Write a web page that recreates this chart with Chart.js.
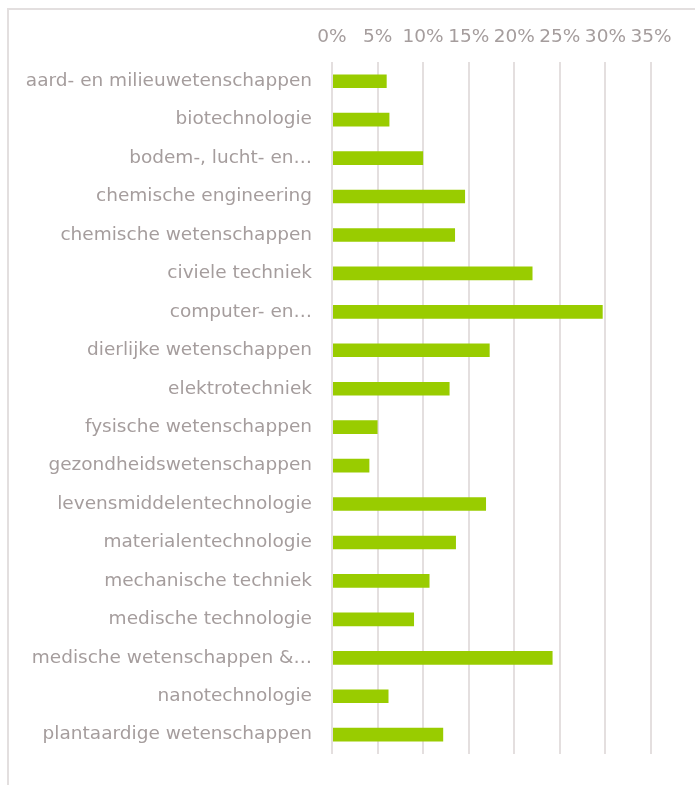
<!DOCTYPE html>
<html>
<head>
<meta charset="utf-8">
<script src="https://cdn.jsdelivr.net/npm/chart.js@4"></script>
<style>
  html, body { margin: 0; padding: 0; background: #fff; overflow: hidden; }
  #wrap { position: relative; width: 695px; height: 785px; }
  #frame { position: absolute; left: 7px; top: 8px; width: 720px; height: 820px;
           border: 2px solid #e3dfdf; box-sizing: border-box; }
  canvas { position: absolute; left: 0; top: 0; }
</style>
</head>
<body>
<div id="wrap">
  <div id="frame"></div>
  <canvas id="chart" width="695" height="785"></canvas>
</div>
<script>
// ============================
// Data
// ============================
const categories = [
    'aard- en milieuwetenschappen',
    'biotechnologie',
    'bodem-, lucht- en…',
    'chemische engineering',
    'chemische wetenschappen',
    'civiele techniek',
    'computer- en…',
    'dierlijke wetenschappen',
    'elektrotechniek',
    'fysische wetenschappen',
    'gezondheidswetenschappen',
    'levensmiddelentechnologie',
    'materialentechnologie',
    'mechanische techniek',
    'medische technologie',
    'medische wetenschappen &…',
    'nanotechnologie',
    'plantaardige wetenschappen'
];

// share in percent
const shares = [6.0, 6.3, 10.0, 14.6, 13.5, 22.0, 29.7, 17.3, 12.9, 5.0,
                4.1, 16.9, 13.6, 10.7, 9.0, 24.2, 6.2, 12.2];

const xTicks = [0, 5, 10, 15, 20, 25, 30, 35];

// ============================
// Styling
// ============================
const textColor = '#a59d9d';
const gridColor = '#e4dfdf';
const barColor  = '#99cc00';
const font      = { family: 'DejaVu Sans', size: 18.5 };

const ctx = document.getElementById('chart').getContext('2d');

new Chart(ctx, {
    type: 'bar',
    data: {
        labels: categories,
        datasets: [{
            data: shares,
            backgroundColor: barColor,
            borderWidth: 0,
            barPercentage: 0.355,
            categoryPercentage: 1
        }]
    },
    options: {
        indexAxis: 'y',
        responsive: false,
        animation: false,
        layout: { padding: { top: 0, right: 44, bottom: 25, left: 0 } },
        plugins: {
            legend: { display: false },
            tooltip: { enabled: false }
        },
        scales: {
            x: {
                position: 'top',
                min: xTicks[0],
                max: xTicks[xTicks.length - 1],
                afterBuildTicks: (scale) => {
                    scale.ticks = xTicks.map(v => ({ value: v }));
                },
                afterFit: (scale) => { scale.height = 62; },
                grid: { color: gridColor, lineWidth: 2, drawTicks: false },
                border: { display: false },
                ticks: {
                    color: textColor,
                    font: font,
                    padding: 14,
                    maxRotation: 0,
                    autoSkip: false,
                    callback: (v) => v + '%'
                }
            },
            y: {
                afterFit: (scale) => { scale.width = 332; },
                grid: { display: false, drawTicks: false },
                border: { display: false },
                ticks: {
                    color: textColor,
                    font: font,
                    padding: 20,
                    autoSkip: false
                }
            }
        }
    }
});
</script>
</body>
</html>
